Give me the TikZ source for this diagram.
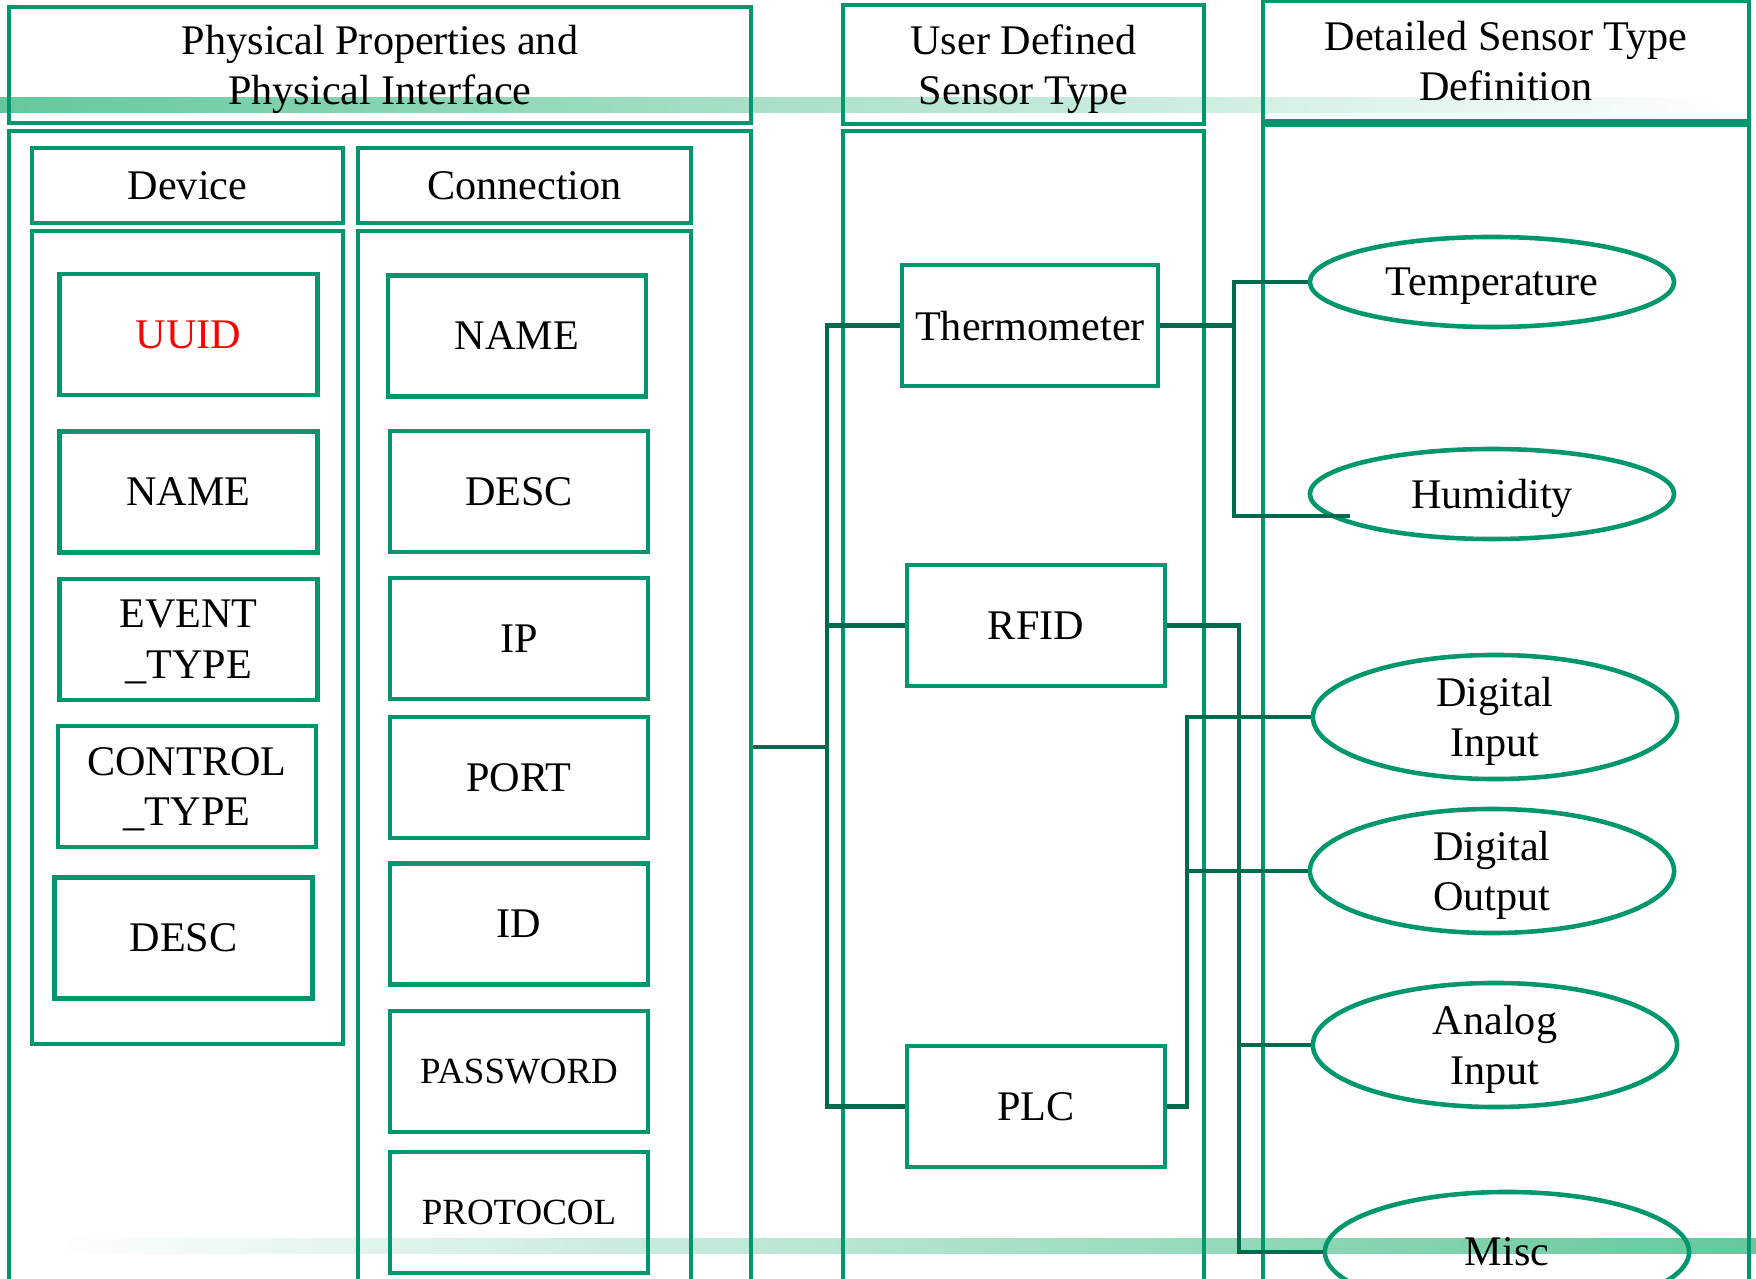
\documentclass[tikz,border=0pt]{standalone}
\usepackage{fontspec}
\setmainfont{Liberation Serif}
\usetikzlibrary{shapes.geometric}
\definecolor{boxgreen}{RGB}{0,150,110}
\definecolor{linkgreen}{RGB}{0,105,78}
\definecolor{bandgreen}{RGB}{100,200,155}

\begin{document}
\begin{tikzpicture}[x=0.01cm,y=-0.01cm,
      every node/.style={font=\fontsize{12}{14.4}\selectfont, align=center, text depth=-1.4pt},
      panel/.style={draw=boxgreen, line width=1.15pt, inner sep=0pt},
      box/.style={draw=boxgreen, line width=1.3pt, minimum width=2.58cm, minimum height=1.21cm, inner xsep=2pt},
      small/.style={font=\fontsize{10.5}{12.6}\selectfont},
      oval/.style={ellipse, draw=boxgreen, line width=1.3pt, minimum width=3.64cm, inner sep=0pt},
      link/.style={draw=linkgreen, line width=1.15pt}]
          \useasboundingbox (0,0) rectangle (1756,1279);
          % bands
          \shade[left color=bandgreen, right color=white] (0,98) rectangle (1740,113);
          \shade[left color=white, right color=bandgreen] (40,1238) rectangle (1756,1253);
          % columns
          \node[panel, minimum width=7.42cm, minimum height=1.16cm] (hd1) at (380,65) {Physical Properties and\\Physical Interface};
          \node[panel, minimum width=7.42cm, minimum height=11.69cm] (pn1) at (380,715.5) {};
          \node[panel, minimum width=3.11cm, minimum height=0.75cm] (hd2) at (187.5,185.5) {Device};
          \node[panel, minimum width=3.11cm, minimum height=8.13cm] (pn2) at (187.5,637.5) {};
          \node[panel, minimum width=3.33cm, minimum height=0.75cm] (hd3) at (524.5,185.5) {Connection};
          \node[panel, minimum width=3.33cm, minimum height=10.69cm] (pn3) at (524.5,765.5) {};
          \node[panel, minimum width=3.61cm, minimum height=1.19cm] (hd4) at (1023.5,64.5) {User Defined\\Sensor Type};
          \node[panel, minimum width=3.61cm, minimum height=11.69cm] (pn4) at (1023.5,715.5) {};
          \node[panel, minimum width=4.86cm, minimum height=1.20cm] (hd5) at (1506,61) {Detailed Sensor Type\\Definition};
          \node[panel, minimum width=4.86cm, minimum height=11.75cm] (pn5) at (1506,712.5) {};
          % device
          \node[box, text=red] (d1) at (188.5,334.5) {UUID};
          \node[box] (d2) at (188.5,492) {NAME};
          \node[box] (d3) at (188.5,639.5) {EVENT\\\_TYPE};
          \node[box] (d4) at (187,786.5) {CONTROL\\\_TYPE};
          \node[box] (d5) at (183.5,938) {DESC};
          % connection
          \node[box] (c1) at (517,336) {NAME};
          \node[box] (c2) at (519,491.5) {DESC};
          \node[box] (c3) at (519,638.5) {IP};
          \node[box] (c4) at (519,777.5) {PORT};
          \node[box] (c5) at (519,924) {ID};
          \node[box, small] (c6) at (519,1071.5) {PASSWORD};
          \node[box, small] (c7) at (519,1212.5) {PROTOCOL};
          % sensor types
          \node[box, minimum width=2.56cm] (s1) at (1030,325.5) {Thermometer};
          \node[box] (s2) at (1036,625.5) {RFID};
          \node[box] (s3) at (1036,1106.5) {PLC};
          \node[oval, minimum height=0.90cm] (t1) at (1492,282) {Temperature};
          \node[oval, minimum height=0.90cm] (t2) at (1492,494) {Humidity};
          \node[oval, minimum height=1.24cm] (t3) at (1495,717) {Digital\\Input};
          \node[oval, minimum height=1.24cm] (t4) at (1492,871) {Digital\\Output};
          \node[oval, minimum height=1.24cm] (t5) at (1495,1045) {Analog\\Input};
          \node[oval, minimum height=1.20cm] (t6) at (1507,1252) {Misc};
          % links
          \coordinate (p1) at (827,747);
          \coordinate (p2) at (1234,325.5);
          \coordinate (p3) at (1350,516);
          \coordinate (p4) at (1239,625.5);
          \coordinate (p5) at (1187,1106.5);
          \draw[link] (pn1.east |- p1) -- (p1);
          \draw[link] (p1) |- (s1.west);
          \draw[link] (p1) |- (s2.west);
          \draw[link] (p1) |- (s3.west);
          \draw[link] (s1.east) -- (p2) |- (t1.west);
          \draw[link] (p2) |- (p3);
          \draw[link] (s2.east) -- (p4) |- (t6.west);
          \draw[link] (p4) |- (t5.west);
          \draw[link] (s3.east) -- (p5) |- (t3.west);
          \draw[link] (p5) |- (t4.west);
        \end{tikzpicture}
\end{document}
